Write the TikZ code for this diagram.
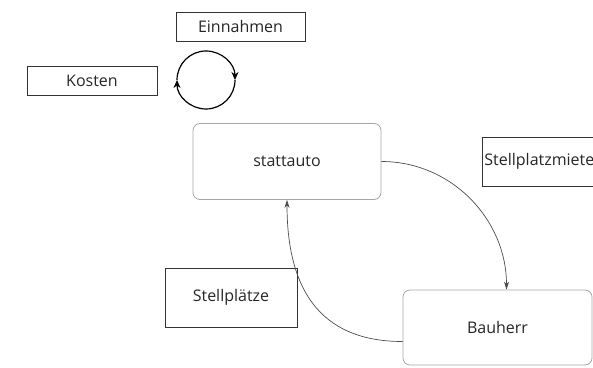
\documentclass[tikz,border=0pt]{standalone}
\usepackage{fontspec}
\setmainfont{Open Sans}
\usetikzlibrary{arrows.meta}

\begin{document}
\begin{tikzpicture}[x=1pt,y=1pt,font=\fontsize{16}{19}\selectfont,
    tag/.style={draw=black!80,line width=.8pt,inner sep=0pt,text=black!85},
    party/.style={draw=black!35,line width=.8pt,rounded corners=7pt,inner sep=0pt,
      minimum width=188pt,minimum height=76pt,text=black!85},
    flow/.style={black!70,line width=.7pt,-{Stealth[length=8pt,width=5pt]}},
    cycl/.style={line width=1.2pt,-{Stealth[length=8pt,width=7pt]}}]
  \useasboundingbox (0,0) rectangle (593,367);
  \node[tag,minimum width=129pt,minimum height=29pt] (einnahmen) at (240.5,340.5) {Einnahmen};
  \node[tag,minimum width=130pt,minimum height=29pt] (kosten) at (92,286.5) {Kosten};
  \node[party] (stattauto) at (287,205.5) {stattauto};
  \node[tag,anchor=west,minimum height=49pt,text width=124pt,inner xsep=2pt,align=left]
    (miete) at (482,205.5) {Stellplatzmiete};
  \node[party,minimum width=189pt,minimum height=75pt] (bauherr) at (497.5,39.5) {Bauherr};
  \node[tag,minimum width=132pt,minimum height=59pt] (plaetze) at (231,69.5) {Stellplätze};
  \draw[flow] (stattauto.east) to[out=0,in=90] ([xshift=9pt]bauherr.north);
  \draw[flow] ([yshift=-14pt]bauherr.west) to[out=180,in=-90,looseness=1.2] (stattauto.south);
  \draw[cycl] (206,316) arc[start angle=90,end angle=0,radius=29];
  \draw[cycl] (235,287) arc[start angle=0,end angle=-180,radius=29];
  \draw[line width=1.2pt] (177,287) arc[start angle=180,end angle=90,radius=29];
\end{tikzpicture}
\end{document}
